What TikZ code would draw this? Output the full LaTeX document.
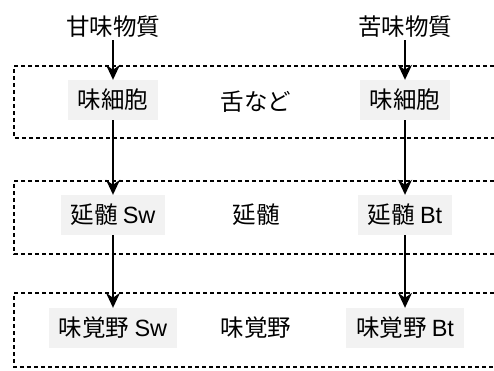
\documentclass[tikz,border=0pt]{standalone}
\usepackage{fontspec}
\setmainfont{Noto Sans CJK JP}
\newfontfamily\latinfont{Liberation Sans}
\usetikzlibrary{arrows.meta}

\def\boxLeft{14}
\def\boxRight{494}
\def\leftCol{113}
\def\midCol{256}
\def\rightCol{405}

\tikzset{
  area/.style={line width=1.4pt,dash pattern=on 4pt off 3pt},
  site/.style={fill=black!5,inner xsep=10pt,minimum height=40pt},
  flow/.style={line width=1.5pt,-{Stealth[length=15pt,width=14pt,inset=5pt]}},
  label/.style={inner sep=2pt}
}

\begin{document}
\begin{tikzpicture}[x=1pt,y=-1pt,font=\fontsize{23.5}{28}\selectfont]
    \useasboundingbox (0,0) rectangle (494,370);

    % dashed areas, open to the right
    \foreach \top/\bottom in {66/138,181/254,293/367} {
      \draw[area] (\boxRight,\top) -- (\boxLeft,\top) -- (\boxLeft,\bottom) -- (\boxRight,\bottom);
    }

    \node[label] (sweet) at (\leftCol,27) {甘味物質};
    \node[label] (bitter) at (\rightCol,27) {苦味物質};

    \node[site] (cellS) at (\leftCol,100) {味細胞};
    \node (tongue) at (\midCol,102) {舌など};
    \node[site] (cellB) at (\rightCol,100) {味細胞};

    \node[site] (medS) at (\leftCol,215) {延髄 {\latinfont Sw}};
    \node (med) at (\midCol,215) {延髄};
    \node[site] (medB) at (\rightCol,215) {延髄 {\latinfont Bt}};

    \node[site] (cortS) at (\leftCol,328) {味覚野 {\latinfont Sw}};
    \node (cort) at (\midCol,328) {味覚野};
    \node[site] (cortB) at (\rightCol,328) {味覚野 {\latinfont Bt}};

    \foreach \a/\b in {sweet/cellS,cellS/medS,medS/cortS,bitter/cellB,cellB/medB,medB/cortB} {
      \draw[flow] (\a) -- (\b);
    }
  \end{tikzpicture}
\end{document}
